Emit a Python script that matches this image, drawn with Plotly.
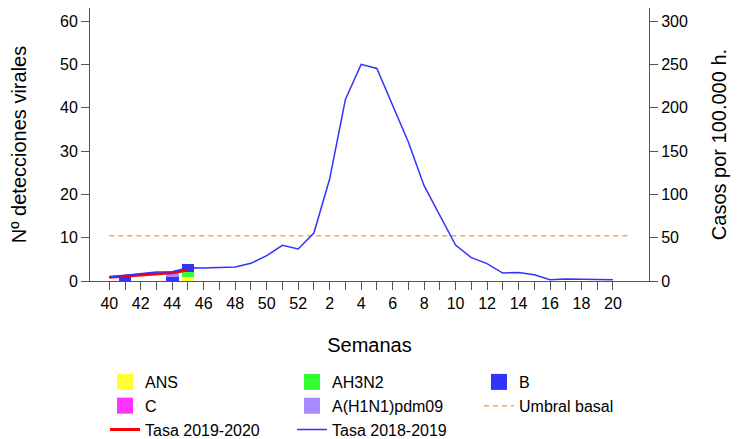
import plotly.graph_objects as go

# ---- Data ----
semanas = ["40", "41", "42", "43", "44", "45", "46", "47", "48", "49", "50", "51", "52",
           "1", "2", "3", "4", "5", "6", "7", "8", "9", "10", "11", "12", "13", "14",
           "15", "16", "17", "18", "19", "20"]
umbral_semanas = semanas + ["21"]

# 2019-2020 virological detections (weeks 40-45)
semanas_2019 = ["40", "41", "42", "43", "44", "45"]
ans = [0, 0, 0, 0, 0, 1]
ah3n2 = [0, 0, 0, 0, 0, 1]
b = [0, 1, 0, 0, 1, 2]
c = [0, 0, 0, 0, 0, 0]
h1n1 = [0, 0, 0, 0, 1, 0]

tasa_2019_2020 = [4.3, 5.5, 6.6, 8.0, 9.5, 12.7]
tasa_2018_2019 = [4.6, 6.5, 7.7, 10.4, 10.8, 15.4, 15.0, 15.8, 16.1, 20.4, 29.2, 41.1, 36.9,
                  55.3, 117.6, 209.4, 250.0, 245.3, 203.0, 160.5, 110.0, 76.0, 41.5, 27.0,
                  20.0, 9.2, 9.8, 7.3, 1.5, 2.3, 2.3, 1.9, 1.5]
umbral_basal = [52.2] * len(umbral_semanas)

tick_labels = [s if i % 2 == 0 else "" for i, s in enumerate(semanas)]

idx = {s: i for i, s in enumerate(umbral_semanas)}
x_2019 = [idx[s] for s in semanas_2019]
x_all = [idx[s] for s in semanas]
x_umbral = [idx[s] for s in umbral_semanas]

FONT = "Liberation Sans, Arial, sans-serif"

colors = {
    "ANS": "#FFFF33",
    "AH3N2": "#33FF33",
    "B": "#3333FF",
    "C": "#FF33FF",
    "A(H1N1)pdm09": "#AA88FF",
}
series = [("ANS", ans), ("AH3N2", ah3n2), ("B", b), ("C", c), ("A(H1N1)pdm09", h1n1)]

fig = go.Figure()

for name, vals in series:
    fig.add_trace(go.Bar(x=x_2019, y=vals, name=name, marker_color=colors[name],
                         marker_line_width=0, width=0.8, showlegend=False,
                         legendgroup=name, yaxis="y"))

# legend proxies (square symbols)
for name, vals in series:
    fig.add_trace(go.Scatter(x=[None], y=[None], mode="markers", name=name,
                             marker=dict(symbol="square", size=18, color=colors[name],
                                         line=dict(width=0)),
                             legendgroup=name, showlegend=True, yaxis="y"))

fig.add_trace(go.Scatter(x=x_umbral, y=umbral_basal, mode="lines", name="Umbral basal",
                         line=dict(color="#F4A460", width=1.5, dash="5px,4px"), yaxis="y2"))
fig.add_trace(go.Scatter(x=x_2019, y=tasa_2019_2020, mode="lines", name="Tasa 2019-2020",
                         line=dict(color="#FF0000", width=3), yaxis="y2"))
fig.add_trace(go.Scatter(x=x_all, y=tasa_2018_2019, mode="lines", name="Tasa 2018-2019",
                         line=dict(color="#3333FF", width=1.5), yaxis="y2"))

axis_common = dict(showgrid=False, zeroline=False, showline=True, linecolor="#555555",
                   linewidth=1, ticks="outside", ticklen=8, tickcolor="#555555",
                   automargin=False,
                   tickfont=dict(family=FONT, size=16, color="#000000"))

# page body adds an 8px offset, so the figure is 731x431
W, H = 731, 431

fig.update_layout(
    width=W, height=H,
    margin=dict(l=82, r=90, t=0, b=158, autoexpand=False),
    paper_bgcolor="white", plot_bgcolor="white",
    barmode="stack",
    font=dict(family=FONT, size=16, color="#000000"),
    xaxis=dict(**axis_common, range=[-1.225, 34.29], tickmode="array",
               tickvals=x_all, ticktext=tick_labels,
               title=dict(text="Semanas", font=dict(family=FONT, size=20), standoff=26)),
    yaxis=dict(**axis_common, range=[0, 63], tickvals=[0, 10, 20, 30, 40, 50, 60],
               title=dict(text="Nº detecciones virales", font=dict(family=FONT, size=20),
                          standoff=30)),
    yaxis2=dict(**axis_common, range=[0, 315], overlaying="y", side="right",
                tickvals=[0, 50, 100, 150, 200, 250, 300],
                title=dict(text="Casos por 100.000 h.", font=dict(family=FONT, size=20),
                           standoff=25)),
    legend=dict(orientation="h", xref="container", yref="container",
                x=97 / W, xanchor="left", y=1 - 357 / H, yanchor="top",
                traceorder="normal", entrywidth=142, entrywidthmode="pixels",
                font=dict(family=FONT, size=16), itemsizing="trace"),
)

fig.write_html("out.html")
